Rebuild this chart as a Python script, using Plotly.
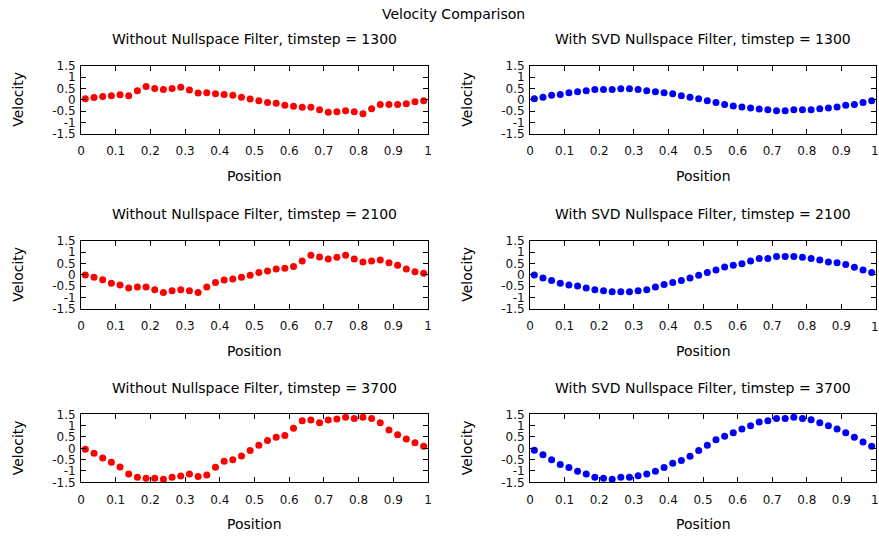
import plotly.graph_objects as go

position = [0.0125, 0.0375, 0.0625, 0.0875, 0.1125, 0.1375, 0.1625, 0.1875, 0.2125, 0.2375,
            0.2625, 0.2875, 0.3125, 0.3375, 0.3625, 0.3875, 0.4125, 0.4375, 0.4625, 0.4875,
            0.5125, 0.5375, 0.5625, 0.5875, 0.6125, 0.6375, 0.6625, 0.6875, 0.7125, 0.7375,
            0.7625, 0.7875, 0.8125, 0.8375, 0.8625, 0.8875, 0.9125, 0.9375, 0.9625, 0.9875]

raw_1300 = [0.05, 0.10, 0.15, 0.18, 0.22, 0.18, 0.40, 0.59, 0.50, 0.46,
            0.50, 0.55, 0.43, 0.30, 0.31, 0.27, 0.24, 0.20, 0.11, 0.04,
            -0.04, -0.12, -0.15, -0.24, -0.28, -0.33, -0.33, -0.43, -0.55, -0.52,
            -0.48, -0.52, -0.61, -0.39, -0.20, -0.20, -0.20, -0.17, -0.08, -0.04]
svd_1300 = [0.05, 0.11, 0.20, 0.23, 0.31, 0.36, 0.40, 0.45, 0.45, 0.45,
            0.49, 0.49, 0.45, 0.40, 0.36, 0.31, 0.27, 0.18, 0.11, 0.05,
            -0.04, -0.12, -0.20, -0.27, -0.31, -0.36, -0.40, -0.43, -0.48, -0.48,
            -0.43, -0.43, -0.43, -0.39, -0.36, -0.31, -0.24, -0.20, -0.12, -0.04]
raw_2100 = [-0.01, -0.10, -0.21, -0.37, -0.45, -0.58, -0.53, -0.53, -0.65, -0.77,
            -0.70, -0.65, -0.70, -0.77, -0.53, -0.34, -0.23, -0.18, -0.11, -0.02,
            0.10, 0.17, 0.26, 0.29, 0.37, 0.61, 0.86, 0.78, 0.70, 0.77,
            0.86, 0.70, 0.56, 0.61, 0.65, 0.53, 0.42, 0.26, 0.14, 0.07]
svd_2100 = [-0.01, -0.14, -0.25, -0.37, -0.45, -0.49, -0.58, -0.65, -0.70, -0.74,
            -0.74, -0.74, -0.70, -0.65, -0.53, -0.42, -0.34, -0.25, -0.14, -0.02,
            0.10, 0.21, 0.34, 0.42, 0.49, 0.61, 0.72, 0.72, 0.81, 0.81,
            0.81, 0.77, 0.72, 0.65, 0.56, 0.53, 0.45, 0.33, 0.21, 0.10]
raw_3700 = [-0.04, -0.22, -0.43, -0.62, -0.82, -1.13, -1.28, -1.32, -1.32, -1.37,
            -1.28, -1.22, -1.13, -1.24, -1.18, -0.84, -0.57, -0.50, -0.34, -0.10,
            0.13, 0.34, 0.49, 0.56, 0.88, 1.22, 1.25, 1.13, 1.25, 1.29,
            1.37, 1.32, 1.37, 1.32, 1.13, 0.81, 0.60, 0.41, 0.25, 0.09]
svd_3700 = [-0.09, -0.29, -0.50, -0.71, -0.85, -1.01, -1.13, -1.28, -1.32, -1.37,
            -1.28, -1.28, -1.21, -1.13, -1.01, -0.85, -0.66, -0.54, -0.35, -0.10,
            0.13, 0.38, 0.53, 0.69, 0.85, 1.00, 1.16, 1.22, 1.32, 1.32,
            1.37, 1.32, 1.26, 1.13, 1.00, 0.85, 0.69, 0.49, 0.28, 0.09]

timesteps = ["1300", "2100", "3700"]
raw_series = [raw_1300, raw_2100, raw_3700]
svd_series = [svd_1300, svd_2100, svd_3700]

x_ticks = [0, 0.1, 0.2, 0.3, 0.4, 0.5, 0.6, 0.7, 0.8, 0.9, 1]
x_tick_text = ["0", "0.1", "0.2", "0.3", "0.4", "0.5", "0.6", "0.7", "0.8", "0.9", "1"]
y_ticks = [1.5, 1, 0.5, 0, -0.5, -1, -1.5]
y_tick_text = ["1.5", "1", "0.5", "0", "-0.5", "-1", "-1.5"]

W, H = 879, 539
FONT = "DejaVu Sans"

col_px = [(81, 428), (530, 876)]
row_px = [(65.7, 134), (240.7, 309), (414.3, 482.3)]

fig = go.Figure()
annotations = []

idx = 0
for r in range(3):
    for c in range(2):
        idx += 1
        xa = "x" if idx == 1 else f"x{idx}"
        ya = "y" if idx == 1 else f"y{idx}"
        data = raw_series[r] if c == 0 else svd_series[r]
        color = "#ff0000" if c == 0 else "#0000ff"
        fig.add_trace(go.Scatter(x=position, y=data, mode="markers",
                                 marker=dict(color=color, size=7, line=dict(width=0)),
                                 xaxis=xa, yaxis=ya, showlegend=False, cliponaxis=False,
                                 hoverinfo="skip"))
        x0, x1 = col_px[c]
        y0, y1 = row_px[r]
        xdom = [x0 / W, x1 / W]
        ydom = [1 - y1 / H, 1 - y0 / H]
        axcommon = dict(showline=True, linecolor="black", linewidth=1, mirror="ticks",
                        ticks="inside", ticklen=5, tickcolor="black", showgrid=False,
                        zeroline=False, automargin=False, fixedrange=True,
                        tickfont=dict(family=FONT, size=12, color="#111"))
        fig.layout[("xaxis" if idx == 1 else f"xaxis{idx}")] = dict(
            domain=xdom, range=[0, 1], anchor=ya, tickvals=x_ticks, ticktext=x_tick_text,
            ticklabelstandoff=6, **axcommon)
        fig.layout[("yaxis" if idx == 1 else f"yaxis{idx}")] = dict(
            domain=ydom, range=[-1.5, 1.5], anchor=xa, tickvals=y_ticks, ticktext=y_tick_text,
            ticklabelstandoff=2, **axcommon)
        title = ("Without Nullspace Filter, timstep = " if c == 0
                 else "With SVD Nullspace Filter, timstep = ") + timesteps[r]
        cx = (x0 + x1) / 2 / W
        annotations.append(dict(text=title, x=cx, y=1 - (y0 - 26.5) / H, xref="paper", yref="paper",
                                showarrow=False, xanchor="center", yanchor="middle",
                                font=dict(family=FONT, size=14, color="black")))
        annotations.append(dict(text="Position", x=cx, y=1 - (y1 + 42) / H, xref="paper",
                                yref="paper", showarrow=False, xanchor="center", yanchor="middle",
                                font=dict(family=FONT, size=14, color="black")))
        annotations.append(dict(text="Velocity", x=(x0 - 63) / W, y=1 - (y0 + y1) / 2 / H,
                                xref="paper", yref="paper", showarrow=False, textangle=-90,
                                xanchor="center", yanchor="middle",
                                font=dict(family=FONT, size=14, color="black")))
        if c == 1:
            # last tick label of the right column, at the page edge as in the original
            annotations.append(dict(text=x_tick_text[-1], x=1, xref="paper", xshift=2,
                                    y=1 - (y1 + 17.5) / H, yref="paper", showarrow=False,
                                    xanchor="right", yanchor="middle",
                                    font=dict(family=FONT, size=12, color="#111")))

annotations.append(dict(text="Velocity Comparison", x=454 / W, y=1 - 14 / H, xref="paper",
                        yref="paper", showarrow=False, xanchor="center", yanchor="middle",
                        font=dict(family=FONT, size=14, color="black")))

fig.update_layout(width=W, height=H, margin=dict(l=0, r=0, t=0, b=0, autoexpand=False),
                  paper_bgcolor="white", plot_bgcolor="white", annotations=annotations,
                  font=dict(family=FONT), hovermode=False)

fig.write_html("out.html", config={"displayModeBar": False},
               post_script="document.body.style.margin='0';document.body.style.overflow='hidden';")
